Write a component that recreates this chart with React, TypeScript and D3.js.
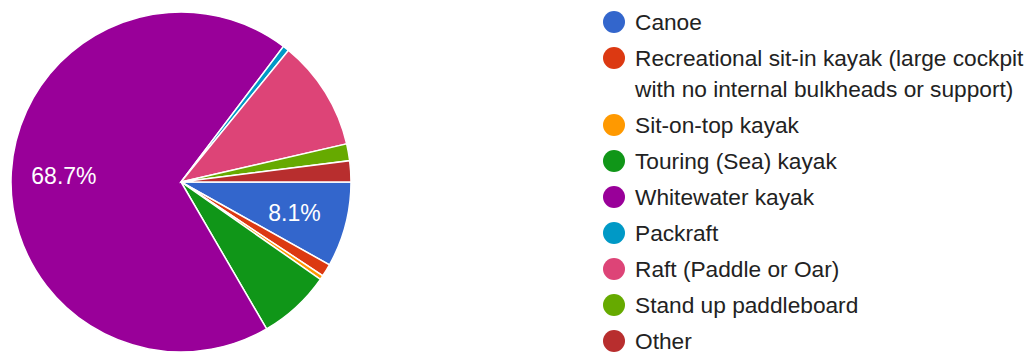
import React from "react";
import * as d3 from "d3";

const categories = [
  "Canoe",
  "Recreational sit-in kayak (large cockpit with no internal bulkheads or support)",
  "Sit-on-top kayak",
  "Touring (Sea) kayak",
  "Whitewater kayak",
  "Packraft",
  "Raft (Paddle or Oar)",
  "Stand up paddleboard",
  "Other",
];
const legendLines = [
  ["Canoe"],
  ["Recreational sit-in kayak (large cockpit", "with no internal bulkheads or support)"],
  ["Sit-on-top kayak"],
  ["Touring (Sea) kayak"],
  ["Whitewater kayak"],
  ["Packraft"],
  ["Raft (Paddle or Oar)"],
  ["Stand up paddleboard"],
  ["Other"],
];
const values = [8.1, 1.2, 0.4, 6.9, 68.7, 0.6, 10.5, 1.6, 2.0];
const colors = ["#3366cc", "#dc3912", "#ff9900", "#109618", "#990099", "#0099c6", "#dd4477", "#66aa00", "#b82e2e"];
const shownLabels = [0, 4];

export default function App() {
  const W = 1031, H = 352;
  const cx = 181, cy = 182, r = 170;
  const data = categories.map((c, i) => ({ c, v: values[i], i }));
  const pie = d3.pie<any>().value((d) => d.v).sort(null).startAngle(Math.PI / 2).endAngle(Math.PI / 2 + 2 * Math.PI);
  const arcs = pie(data);
  const arc = d3.arc<any>().innerRadius(0).outerRadius(r);
  const labelArc = d3.arc<any>().innerRadius(r * 0.69).outerRadius(r * 0.69);
  const font = "'Liberation Sans', Arial, sans-serif";

  let y = 22;
  const rows = legendLines.map((lines, i) => {
    const row = { lines, y, i };
    y += 36 + (lines.length - 1) * 31;
    return row;
  });

  return (
    <div style={{ position: "absolute", left: 0, top: 0 }}>
      <svg width={W} height={H} style={{ display: "block", background: "#fff" }}>
        <g transform={`translate(${cx},${cy})`}>
          {arcs.map((a, k) => (
            <path key={k} d={arc(a) as string} fill={colors[a.data.i]} stroke="#fff" strokeWidth={1.5} />
          ))}
          {arcs.filter((a) => shownLabels.includes(a.data.i)).map((a, k) => {
            const [lx, ly] = labelArc.centroid(a);
            return (
              <text key={k} x={lx} y={ly + 1} textAnchor="middle" dominantBaseline="central" fill="#fff" fontFamily={font} fontSize={23}>
                {a.data.v.toFixed(1)}%
              </text>
            );
          })}
        </g>
        <g>
          {rows.map((row) => (
            <g key={row.i}>
              <circle cx={614} cy={row.y} r={11} fill={colors[row.i]} />
              <text fontFamily={font} fontSize={22.7} fill="#222">
                {row.lines.map((ln, j) => (
                  <tspan key={j} x={635} y={row.y + j * 31} dominantBaseline="central">{ln}</tspan>
                ))}
              </text>
            </g>
          ))}
        </g>
      </svg>
    </div>
  );
}
